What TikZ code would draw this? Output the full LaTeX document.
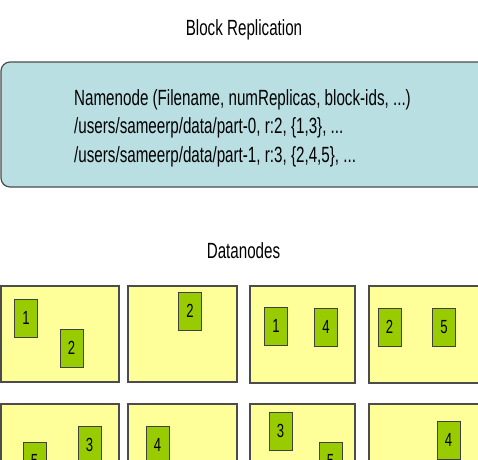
\documentclass[tikz,border=0pt]{standalone}
\usepackage{fontspec}
\setmainfont{Liberation Sans}[FakeStretch=0.69]
\definecolor{nnblue}{HTML}{B9DFE3}
\definecolor{dnyellow}{HTML}{FFFF99}
\definecolor{blkgreen}{HTML}{99CC00}
\begin{document}
\begin{tikzpicture}[x=1pt, y=-1pt,
		dnode/.style={fill=dnyellow, draw=gray!60!black, line width=1.2pt},
		blk/.style={draw=black!75, fill=blkgreen, line width=1pt, minimum width=23pt, minimum height=38pt, inner sep=0pt, font=\fontsize{19}{22}\selectfont},
		lbl/.style={inner sep=0pt, font=\fontsize{22}{26}\selectfont}]
	\useasboundingbox (0,0) rectangle (478,459);
	\clip (0,0) rectangle (478,459);
	% namenode
	\node[lbl, anchor=base] (title) at (244,35) {Block Replication};
	\draw[fill=nnblue, draw=gray!60!black, line width=1.2pt, rounded corners=9pt] (490,62) -- (1,62) -- (1,187) -- (490,187);
	\node[lbl, anchor=base west] (nn1) at (74,105) {Namenode (Filename, numReplicas, block-ids, ...)};
	\node[lbl, anchor=base west] (nn2) at (74,133.5) {/users/sameerp/data/part-0, r:2, \{1,3\}, ...};
	\node[lbl, anchor=base west] (nn3) at (74,162) {/users/sameerp/data/part-1, r:3, \{2,4,5\}, ...};
	% datanodes
	\node[lbl, anchor=base] (dntitle) at (243.5,258) {Datanodes};
	\draw[dnode] (1,286) rectangle (119,382);
	\draw[dnode] (128,286) rectangle (237,382);
	\draw[dnode] (250,286) rectangle (355,383);
	\draw[dnode] (369,286) rectangle (490,383);
	\draw[dnode] (1,404) rectangle (119,520);
	\draw[dnode] (128,404) rectangle (237,520);
	\draw[dnode] (250,404) rectangle (355,520);
	\draw[dnode] (369,404) rectangle (490,520);
	% blocks
	\node[blk] (b11) at (26,318) {1};
	\node[blk] (b12) at (71.5,348) {2};
	\node[blk] (b21) at (190,311) {2};
	\node[blk] (b31) at (276,326) {1};
	\node[blk] (b32) at (326,327) {4};
	\node[blk] (b41) at (389.5,327) {2};
	\node[blk] (b42) at (444,327) {5};
	\node[blk] (b51) at (34.5,461) {5};
	\node[blk] (b52) at (89.5,445) {3};
	\node[blk] (b61) at (157.5,445) {4};
	\node[blk] (b71) at (280.5,431) {3};
	\node[blk] (b72) at (330.5,461) {5};
	\node[blk] (b81) at (448.5,440) {4};
\end{tikzpicture}
\end{document}
